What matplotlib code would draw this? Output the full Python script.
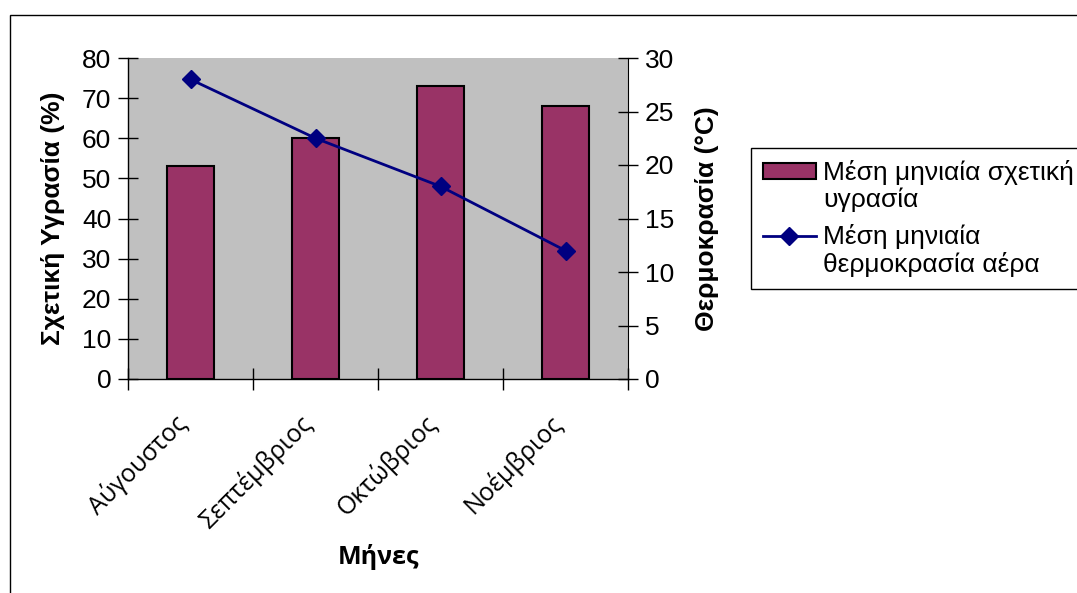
import matplotlib
matplotlib.use("Agg")
import matplotlib.pyplot as plt
from matplotlib.patches import Rectangle
from matplotlib.legend_handler import HandlerPatch, HandlerLine2D
from matplotlib.transforms import Affine2D
import numpy as np

months = ["Αύγουστος", "Σεπτέμβριος", "Οκτώβριος", "Νοέμβριος"]
humidity = [53, 60, 73, 68]          # Μέση μηνιαία σχετική υγρασία (%)
temperature = [28, 22.5, 18, 12]     # Μέση μηνιαία θερμοκρασία αέρα (°C)

plt.rcParams['font.family'] = ['Liberation Sans', 'DejaVu Sans']

W, H = 1077, 593
fig = plt.figure(figsize=(W / 100, H / 100), dpi=100)
fig.patch.set_facecolor('white')

# εξωτερικό πλαίσιο γραφήματος
fig.patches.append(Rectangle((10 / W, -0.1), 1.2, 1.1 - 15 / H, transform=fig.transFigure,
                             fill=False, edgecolor='black', linewidth=1.0))

ax1 = fig.add_axes([128 / W, 1 - 379 / H, 500 / W, 321 / H])
ax1.set_facecolor('#C0C0C0')
x = np.arange(len(months))
bars = ax1.bar(x, humidity, width=0.38, color='#993366', edgecolor='black', linewidth=1.5,
               zorder=2)
ax1.set_xlim(-0.5, len(months) - 0.5)
ax1.set_ylim(0, 80)
ax1.set_yticks(range(0, 81, 10))
ax1.set_xticks(np.arange(-0.5, len(months), 1.0))
ax1.set_xticklabels([])
ax1.tick_params(axis='x', which='major', direction='inout', length=16, width=1)
ax1.tick_params(axis='y', direction='inout', length=14, width=1, labelsize=19, pad=5)
for s in ax1.spines.values():
    s.set_linewidth(1.0)
ax1.spines['top'].set_visible(False)
ax1.spines['right'].set_visible(False)
ax1.set_ylabel('Σχετική Υγρασία (%)', fontsize=19, fontweight='bold', labelpad=12)

# ονόματα μηνών, πλάγια στις 45°
for i, m in enumerate(months):
    ax1.annotate(m, xy=(i, 0), xycoords=('data', 'axes fraction'),
                 xytext=(-2 * 0.72, -46 * 0.72), textcoords='offset points',
                 rotation=45, rotation_mode='anchor', ha='right', va='baseline',
                 fontsize=18, family='Open Sans')
fig.text(378 / W, 1 - 557 / H, 'Μήνες', fontsize=18,
         fontweight='bold', family='Open Sans', ha='center', va='center')

ax2 = ax1.twinx()
line, = ax2.plot(x, temperature, color='#000080', linewidth=2, marker='D', markersize=9,
                 zorder=3)
ax2.set_ylim(0, 30)
ax2.set_yticks(range(0, 31, 5))
ax2.tick_params(axis='y', direction='inout', length=14, width=1, labelsize=19, pad=5)
ax2.spines['top'].set_visible(False)
ax2.spines['left'].set_visible(False)
ax2.spines['bottom'].set_visible(False)
ax2.set_ylabel('Θερμοκρασία (°C)', fontsize=19, fontweight='bold', labelpad=15)


# τα σύμβολα του υπομνήματος στο ύψος της πρώτης γραμμής κειμένου
class UpPatch(HandlerPatch):
    def create_artists(self, legend, orig_handle, xdescent, ydescent, width, height,
                       fontsize, trans):
        return super().create_artists(legend, orig_handle, xdescent, ydescent, width,
                                      height, fontsize,
                                      Affine2D().translate(0, 0.58 * fontsize) + trans)


class UpLine(HandlerLine2D):
    def create_artists(self, legend, orig_handle, xdescent, ydescent, width, height,
                       fontsize, trans):
        return super().create_artists(legend, orig_handle, xdescent, ydescent, width,
                                      height, fontsize,
                                      Affine2D().translate(0, 0.58 * fontsize) + trans)


bar_handle = bars.patches[0]
leg = fig.legend([bar_handle, line],
                 ['Μέση μηνιαία σχετική\nυγρασία', 'Μέση μηνιαία\nθερμοκρασία αέρα'],
                 handler_map={bar_handle: UpPatch(), line: UpLine()},
                 loc='upper left', bbox_to_anchor=(751 / W, 1 - 148 / H), fontsize=19,
                 frameon=True, fancybox=False, edgecolor='black', framealpha=1,
                 handlelength=2.0, handleheight=0.6, handletextpad=0.27,
                 borderpad=0.45, labelspacing=0.45, borderaxespad=0)
leg.get_frame().set_linewidth(1.0)
for t in leg.get_texts():
    t.set_linespacing(1.15)

plt.savefig("out.png", dpi=100)
